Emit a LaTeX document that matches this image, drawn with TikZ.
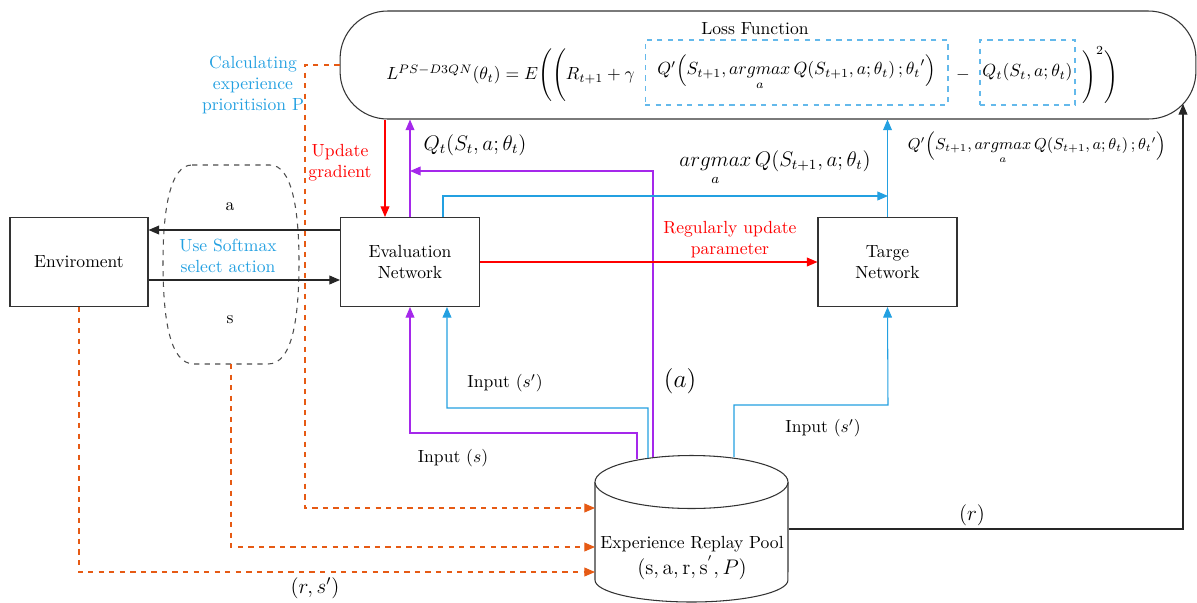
\documentclass[tikz,border=0pt]{standalone}
\usepackage{amsmath, amssymb}
\usepackage{xcolor}
\usepackage{tikz}
\usetikzlibrary{arrows.meta, calc, positioning}

\definecolor{qpurple}{RGB}{165,40,235}
\definecolor{qblue}{RGB}{35,160,225}
\definecolor{dblue}{RGB}{100,185,235}
\definecolor{porange}{RGB}{230,90,20}

\begin{document}
\begin{tikzpicture}[x=0.02cm,y=-0.02cm,>={Triangle[length=6pt,width=5pt]}]

\useasboundingbox (0,0) rectangle (1197,602);

% Stili
\tikzset{
  block/.style={draw=black!80, line width=0.6pt, minimum width=2.78cm, minimum height=1.78cm, align=center},
  qbox/.style={draw=dblue, dashed, line width=0.6pt, inner sep=1pt},
  flow/.style={->, line width=0.6pt},
  orangeflow/.style={->, dashed, porange, line width=0.6pt},
  lbl/.style={align=center, inner sep=1pt}
}

% --- Funzione di perdita ---
\node[draw=black!80, line width=0.6pt, rounded corners=0.95cm, minimum width=17.12cm, minimum height=2.16cm] (loss) at (768,65) {};
\node (losstitle) at (755,29) {Loss Function};
\node[anchor=east] (lossL) at (641,75) {$L^{PS-D3QN}(\theta_t) = E\Bigg(\Bigg(R_{t+1}+\gamma$};
\node[qbox, minimum width=6.06cm, minimum height=1.3cm] (qnext) at (796.5,72.5) {$Q'\Big(S_{t+1}, \underset{a}{argmax}\,Q(S_{t+1},a;\theta_t)\,;{\theta_t}'\Big)$};
\node (minus) at (963,75) {$-$};
\node[qbox, minimum width=1.9cm, minimum height=1.3cm] (qcur) at (1027.5,72.5) {$Q_t(S_t,a;\theta_t)$};
\node[anchor=west] (lossR) at (1076,75) {$\Bigg)^{2}\Bigg)$};

% --- Blocchi ---
\node[block, minimum width=2.76cm] (env) at (79,262) {Enviroment};
\node[block] (eval) at (410,262) {Evaluation\\Network};
\node[block] (targe) at (887.5,262) {Targe\\Network};

% --- Pool di esperienza (cilindro) ---
\draw[line width=0.6pt, black!80] (595,482) -- (595,580) arc[start angle=180, end angle=360, x radius=1.93cm, y radius=0.44cm] -- (788,482);
\draw[line width=0.6pt, black!80, fill=white] (691.5,482) ellipse [x radius=1.93cm, y radius=0.53cm];
\node[align=center] (pool) at (692,558) {Experience Replay Pool\\[1pt] \large$(\text{s},\text{a},\text{r},\text{s}^{'},P)$};

% Contorno tratteggiato (softmax)
\draw[dashed, black!70, line width=0.6pt] (192,165) -- (270,165) .. controls (292,165) and (299,210) .. (299,262) .. controls (299,320) and (292,364) .. (268,364) -- (194,364) .. controls (170,364) and (163,320) .. (163,262) .. controls (163,210) and (170,165) .. (192,165);
\coordinate (softbot) at (231,364);

% Punti di aggancio
\coordinate (pS) at (637,459);
\coordinate (pS1) at (648,458);
\coordinate (pA) at (653,457);
\coordinate (pS2) at (734,457);
\coordinate (sturn) at (410,433);
\coordinate (s1turn) at (447,408);
\coordinate (s2turn) at (888,405);
\coordinate (qturn) at (410,171);
\coordinate (tturn) at (888,196);
\coordinate (poolr) at (789,529);
\coordinate (lossbr) at (1183,104);
\coordinate (cturn) at (305,508);
\coordinate (poolA) at (595,508);
\coordinate (poolB) at (595,547);
\coordinate (poolC) at (595,572);

% Frecce ambiente
\draw[flow, black!85] ([yshift=0.64cm]eval.west) -- ([yshift=0.64cm]env.east);
\draw[flow, black!85] ([yshift=-0.36cm]env.east) -- ([yshift=-0.36cm]eval.west);
\node (alabel) at (230,207) {a};
\node (slabel) at (230,320) {s};
\node[lbl, text=qblue] (softmax) at (228,256) {Use Softmax\\select action};

% Frecce verso e dalla funzione di perdita
\draw[flow, red] ([xshift=-0.5cm]eval.north |- loss.south) -- ([xshift=-0.5cm]eval.north);
\draw[flow, qpurple] (eval.north) -- (eval.north |- loss.south);
\draw[flow, qpurple] (pA) |- (qturn);
\draw[flow, qblue] ([xshift=0.66cm]eval.north) |- (tturn);
\draw[flow, qblue] (targe.north) -- (targe.north |- loss.south);
\draw[flow, red] (eval) -- (targe);
\draw[flow, black!85] (poolr) -| (lossbr);

% Ingressi dal pool
\draw[flow, qpurple] (pS) |- (sturn) -- (eval.south);
\draw[flow, qblue] (pS1) |- (s1turn) -- ([xshift=0.74cm]eval.south);
\draw[flow, qblue] (pS2) |- (s2turn) -- (targe.south);

% Frecce tratteggiate verso il pool
\draw[orangeflow] (loss.west) -| (cturn) -- (poolA);
\draw[orangeflow] (softbot) |- (poolB);
\draw[orangeflow] (env.south) |- (poolC);

% Etichette
\node[lbl, text=qblue] (prio) at (253,85) {Calculating\\experience\\prioritision P};
\node[lbl, text=red] (grad) at (340,163) {Update\\gradient};
\node[lbl, text=red] (regup) at (730,240) {Regularly update\\parameter};
\node (qtlabel) at (475,145) {\large$Q_t(S_t,a;\theta_t)$};
\node (amlabel) at (775,168) {\large$\underset{a}{argmax}\,Q(S_{t+1},a;\theta_t)$};
\node (qplabel) at (1037,148) {\small$Q'\Big(S_{t+1}, \underset{a}{argmax}\,Q(S_{t+1},a;\theta_t)\,;{\theta_t}'\Big)$};
\node (in1) at (505,383) {Input $(s')$};
\node (in0) at (453,458) {Input $(s)$};
\node (alab) at (680,381) {\Large$(a)$};
\node (in2) at (823,428) {Input $(s')$};
\node (rlab) at (972,515) {\large$(r)$};
\node (rslab) at (315,588) {\large$(r,s')$};

\end{tikzpicture}
\end{document}
